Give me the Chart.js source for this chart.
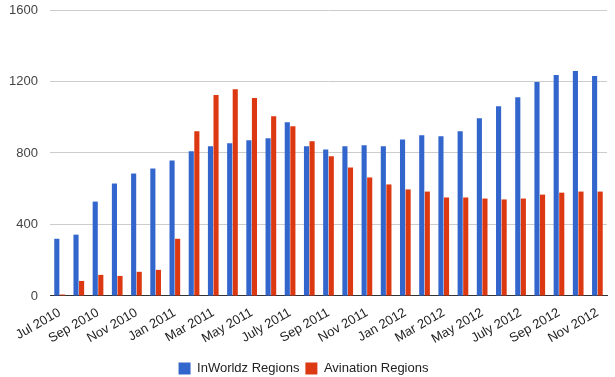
<!DOCTYPE html>
<html>
<head>
<meta charset="utf-8">
<script src="https://cdn.jsdelivr.net/npm/chart.js@4/dist/chart.umd.min.js"></script>
<style>
  html, body { margin: 0; padding: 0; background: #fff; }
  #wrap { width: 615px; height: 377px; }
</style>
</head>
<body>
<div id="wrap"><canvas id="chart"></canvas></div>
<script>
// months Jul 2010 .. Nov 2012
const months = [
  "Jul 2010", "Aug 2010", "Sep 2010", "Oct 2010", "Nov 2010", "Dec 2010",
  "Jan 2011", "Feb 2011", "Mar 2011", "Apr 2011", "May 2011", "Jun 2011",
  "July 2011", "Aug 2011", "Sep 2011", "Oct 2011", "Nov 2011", "Dec 2011",
  "Jan 2012", "Feb 2012", "Mar 2012", "Apr 2012", "May 2012", "Jun 2012",
  "July 2012", "Aug 2012", "Sep 2012", "Oct 2012", "Nov 2012"
];
const inworldz = [
  320, 343, 528, 629, 685, 713, 758, 809, 837, 854, 871, 882, 972, 837, 820,
  837, 843, 837, 876, 899, 893, 921, 994, 1062, 1112, 1197, 1236, 1258, 1230
];
const avination = [
  8, 84, 118, 112, 135, 146, 320, 921, 1124, 1157, 1107, 1006, 949, 865, 781,
  719, 663, 624, 596, 584, 551, 551, 545, 540, 545, 567, 578, 584, 584
];
const yTicks = [0, 400, 800, 1200, 1600];

const ctx = document.getElementById("chart").getContext("2d");
new Chart(ctx, {
  type: "bar",
  data: {
    labels: months,
    datasets: [
      { label: "InWorldz Regions", data: inworldz, backgroundColor: "#3366cc" },
      { label: "Avination Regions", data: avination, backgroundColor: "#dc3912" }
    ]
  },
  options: {
    responsive: true,
    maintainAspectRatio: false,
    animation: false,
    datasets: { bar: { categoryPercentage: 0.58, barPercentage: 0.92 } },
    layout: { padding: { top: 10, right: 8, left: 0, bottom: -8 } },
    plugins: {
      legend: {
        position: "bottom",
        labels: {
          boxWidth: 12, boxHeight: 12, padding: 6,
          color: "#222",
          font: { family: "Liberation Sans, Arial", size: 13 }
        }
      },
      tooltip: { enabled: false }
    },
    scales: {
      x: {
        grid: { display: false, drawTicks: false },
        border: { color: "#333", width: 1 },
        ticks: {
          autoSkip: false,
          minRotation: 30, maxRotation: 30,
          padding: 9,
          color: "#222",
          font: { family: "Liberation Sans, Arial", size: 13 },
          callback: function (v, i) { return i % 2 === 0 ? months[i] : ""; }
        }
      },
      y: {
        min: 0, max: 1600,
        afterBuildTicks: (axis) => { axis.ticks = yTicks.map(v => ({ value: v })); },
        afterFit: (axis) => { axis.width = 50; axis.paddingTop = 0; },
        grid: { color: "#cccccc", drawTicks: false },
        border: { display: false },
        ticks: {
          padding: 12,
          color: "#444",
          font: { family: "Liberation Sans, Arial", size: 13 },
          callback: (v) => String(v)
        }
      }
    }
  }
});
</script>
</body>
</html>
